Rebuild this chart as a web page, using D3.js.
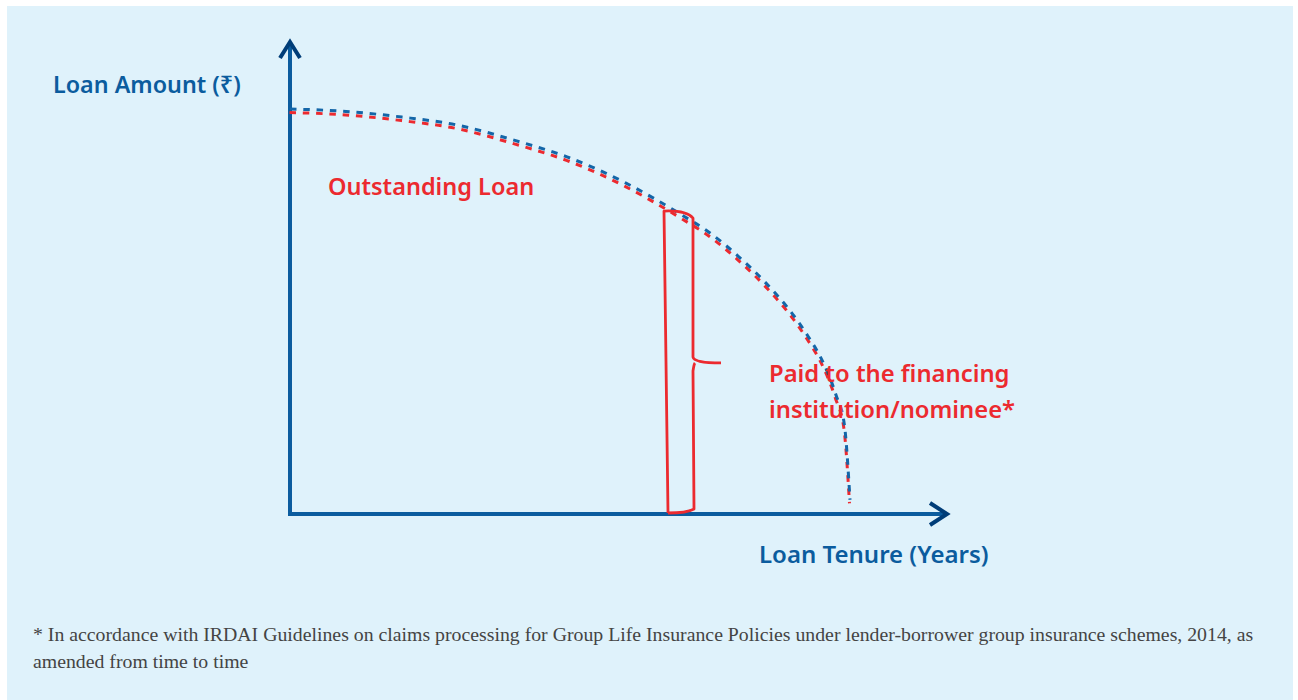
<!DOCTYPE html>
<html>
<head>
<meta charset="utf-8">
<script src="https://cdn.jsdelivr.net/npm/d3@7"></script>
<style>
  html, body { margin: 0; padding: 0; background: #ffffff; }
  svg { display: block; }
</style>
</head>
<body>
<div id="chart"></div>
<script>
'use strict';

// loan tenure in years, outstanding loan as % of the amount borrowed
var tenure = [0, 2, 4, 6, 8, 10, 12, 14, 15, 16, 17, 18, 18.5, 19, 19.5, 19.8, 20];
var outstanding = [100, 99.4, 98.0, 96.0, 92.3, 87.9, 81.7, 73.8, 69.4, 63.7, 57.0, 48.9, 43.9, 38.0, 29.4, 22.0, 3.5];

// year at which the claim is paid out (bracket)
var claimYear = [13.5];

var axisTitles = ['Loan Amount (\u20b9)', 'Loan Tenure (Years)'];
var labels = ['Outstanding Loan', 'Paid to the financing', 'institution/nominee*'];
var footnote = [
  '* In accordance with IRDAI Guidelines on claims processing for Group Life Insurance Policies under lender-borrower group insurance schemes, 2014, as',
  'amended from time to time'
];

var W = 1298, H = 700;
var BLUE = '#0b5c9e', NAVY = '#003d78', RED = '#ec2a2f', BG = '#dff2fb';

var svg = d3.select('#chart').append('svg')
  .attr('width', W)
  .attr('height', H);

svg.append('rect')
  .attr('x', 7).attr('y', 6)
  .attr('width', 1286).attr('height', H - 6)
  .attr('fill', BG);

var x = d3.scaleLinear().domain([0, 20]).range([290, 850]);
var y = d3.scaleLinear().domain([0, 100]).range([514, 109]);

var pts = tenure.map(function (t, i) { return [t, outstanding[i]]; });

// axes
var yTop = y(116.8), xEnd = x(23.5);
svg.append('line')
  .attr('x1', x(0)).attr('y1', y(0) + 2)
  .attr('x2', x(0)).attr('y2', yTop + 3)
  .attr('stroke', BLUE).attr('stroke-width', 4);
svg.append('line')
  .attr('x1', x(0) - 2).attr('y1', y(0))
  .attr('x2', xEnd - 3).attr('y2', y(0))
  .attr('stroke', BLUE).attr('stroke-width', 4);

svg.append('path')
  .attr('d', 'M' + (x(0) - 10) + ',' + (yTop + 17) + 'L' + x(0) + ',' + (yTop + 1) + 'L' + (x(0) + 10) + ',' + (yTop + 17))
  .attr('fill', 'none').attr('stroke', NAVY).attr('stroke-width', 4)
  .attr('stroke-linejoin', 'miter');
svg.append('path')
  .attr('d', 'M' + (xEnd - 18) + ',' + (y(0) - 11) + 'L' + (xEnd - 1) + ',' + y(0) + 'L' + (xEnd - 18) + ',' + (y(0) + 11))
  .attr('fill', 'none').attr('stroke', NAVY).attr('stroke-width', 4)
  .attr('stroke-linejoin', 'miter');

// outstanding loan curve, red under blue
var line = d3.line()
  .x(function (d) { return x(d[0]); })
  .y(function (d) { return y(d[1]); })
  .curve(d3.curveMonotoneX);

svg.append('path')
  .datum(pts)
  .attr('d', line)
  .attr('transform', 'translate(-0.5,3.5)')
  .attr('fill', 'none')
  .attr('stroke', RED)
  .attr('stroke-width', 3)
  .attr('stroke-dasharray', '6.5,6.8');

svg.append('path')
  .datum(pts)
  .attr('d', line)
  .attr('fill', 'none')
  .attr('stroke', '#1466a8')
  .attr('stroke-width', 3)
  .attr('stroke-dasharray', '6.5,6.8');

// bracket for the claim amount
var bx0 = x(claimYear[0]) - 4, bx1 = bx0 + 29;
var bTop = y(74.8), bBot = y(0) - 2;
var bMid = y(37.3);
var brace = d3.path();
brace.moveTo(bx0 + 4, bBot + 1);
brace.lineTo(bx0, bTop);
brace.quadraticCurveTo(bx0 + 22, bTop - 1, bx1, bTop + 7);
brace.lineTo(bx1, bMid - 6);
brace.quadraticCurveTo(bx1 + 1, bMid, bx1 + 28, bMid);
brace.moveTo(bx1 + 2, bMid);
brace.quadraticCurveTo(bx1 + 1, bMid + 1, bx1, bMid + 8);
brace.lineTo(bx1 + 1, bBot - 3);
brace.quadraticCurveTo(bx1 - 6, bBot + 1, bx0 + 4, bBot + 1);
svg.append('path')
  .attr('d', brace.toString())
  .attr('fill', 'none')
  .attr('stroke', RED)
  .attr('stroke-width', 2.8)
  .attr('stroke-linejoin', 'round');

// texts
var sans = '"Noto Sans", "Open Sans", sans-serif';
svg.append('text')
  .attr('x', 53).attr('y', 93)
  .attr('font-family', sans).attr('font-weight', 600).attr('font-size', 23.3)
  .attr('fill', BLUE)
  .text(axisTitles[0]);
svg.append('text')
  .attr('x', 759).attr('y', 563)
  .attr('font-family', sans).attr('font-weight', 600).attr('font-size', 24)
  .attr('fill', BLUE)
  .text(axisTitles[1]);

svg.append('text')
  .attr('x', 328).attr('y', 195)
  .attr('font-family', sans).attr('font-weight', 600).attr('font-size', 23.5)
  .attr('fill', RED)
  .text(labels[0]);
svg.selectAll('text.paid')
  .data(labels.slice(1))
  .enter().append('text')
  .attr('class', 'paid')
  .attr('x', 769)
  .attr('y', function (d, i) { return 382 + i * 36; })
  .attr('font-family', sans).attr('font-weight', 600).attr('font-size', 23.8)
  .attr('fill', RED)
  .text(function (d) { return d; });

svg.selectAll('text.note')
  .data(footnote)
  .enter().append('text')
  .attr('class', 'note')
  .attr('x', 33)
  .attr('y', function (d, i) { return 641 + i * 27; })
  .attr('font-family', '"Liberation Serif", "Times New Roman", serif')
  .attr('font-size', 19.8)
  .attr('fill', '#444444')
  .text(function (d) { return d; });
</script>
</body>
</html>
